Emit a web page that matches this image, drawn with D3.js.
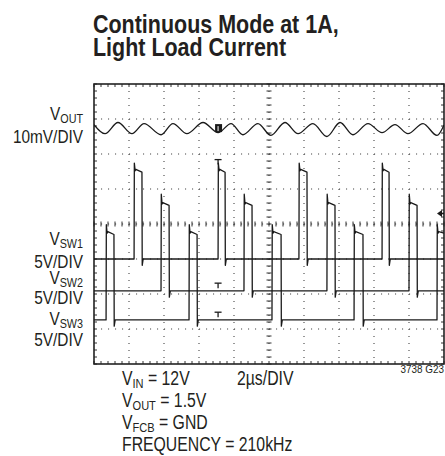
<!DOCTYPE html>
<html><head><meta charset="utf-8">
<script src="https://cdn.jsdelivr.net/npm/d3@7"></script>
<style>html,body{margin:0;padding:0;background:#fff;}svg{display:block;}</style>
</head><body>
<svg id="c" width="445" height="456"></svg>
<script>
// ---- data (time in µs, 2 µs/div, 10 div; voltages in scope units) ----
const timeDomain = [0, 20];
const divDomain = [0, 8];
const triggerTime = 7.09;
const triggerLevelDiv = 4.3;

// VOUT ripple, 10mV/DIV, offset (div from bottom) and samples
const voutOffsetDiv = 6.74;
const voutT  = [0,0.63,1.37,2.17,2.86,3.83,4.51,5.31,6.23,7.09,7.83,8.51,9.37,10.11,10.91,11.66,12.51,13.31,14.06,14.8,15.66,16.46,17.2,17.94,18.8,19.6,20];
const voutMV = [1.0,-1.6,1.6,-1.6,1.3,-1.9,1.3,-1.6,1.6,-1.3,1.3,-1.9,1.3,-2.1,1.6,-1.6,1.3,-2.4,1.6,-1.9,1.3,-1.3,1.0,-1.6,1.3,-2.1,0.9];

// switch nodes, 5V/DIV
const swNames   = ["VSW1", "VSW2", "VSW3"];
const swOffsets = [3.0, 2.09, 1.26];          // ground level, div from bottom
const swHighV   = [12.8, 12.6, 12.6];         // plateau volts
const swSpikeV  = [13.7, 13.8, 13.6];         // overshoot volts
const sw1Rise = [2.29, 7.09, 11.71, 16.46];
const sw1Fall = [2.74, 7.49, 12.17, 16.86];
const sw2Rise = [3.83, 8.57, 13.31, 18.0];
const sw2Fall = [4.29, 9.03, 13.77, 18.46];
const sw3Rise = [0.69, 5.43, 10.17, 14.86, 19.6];
const sw3Fall = [1.14, 5.89, 10.69, 15.37];
const swRises = [sw1Rise, sw2Rise, sw3Rise];
const swFalls = [sw1Fall, sw2Fall, sw3Fall];

// text
const titleLines = ["Continuous Mode at 1A,", "Light Load Current"];
const leftLabels = [
  {main:"V", sub:"OUT", scale:"10mV/DIV"},
  {main:"V", sub:"SW1", scale:"5V/DIV"},
  {main:"V", sub:"SW2", scale:"5V/DIV"},
  {main:"V", sub:"SW3", scale:"5V/DIV"}
];
const condLines = [
  ["V","IN"," = 12V"],
  ["V","OUT"," = 1.5V"],
  ["V","FCB"," = GND"],
  ["FREQUENCY = 210kHz","",""]
];
const timebase = "2\u00B5s/DIV";
const figId = "3738 G23";

// ---- layout ----
const L = 94, R = 444, T = 84, B = 364;
const svg = d3.select("#c");
const x = d3.scaleLinear().domain(timeDomain).range([L, R]);
const y = d3.scaleLinear().domain(divDomain).range([B, T]);
const FONT = "'Liberation Sans', Arial, Helvetica, sans-serif";
const SX = 0.81;

function label(px, py, parts, size, anchor, weight, sx) {
  const g = svg.append("g").attr("transform", `translate(${px},${py}) scale(${sx || SX},1)`);
  const t = g.append("text").attr("x", 0).attr("y", 0)
    .attr("font-family", FONT).attr("font-size", size)
    .attr("font-weight", weight || "normal")
    .attr("text-anchor", anchor || "start").attr("fill", "#231f20");
  parts.forEach(p => {
    if (!p.text) return;
    const ts = t.append("tspan").text(p.text);
    if (p.sub) ts.attr("font-size", size * 0.7).attr("dy", 3);
    else if (p.after) ts.attr("dy", -3);
  });
  return t;
}

// title
titleLines.forEach((s, i) => label(93, 33 + i * 23, [{text:s}], 26.5, "start", "bold"));

// grid
const grid = svg.append("g");
const majorX = d3.range(timeDomain[0], timeDomain[1] + 0.001, 2);
const majorY = d3.range(divDomain[0], divDomain[1] + 0.001, 1);
const minorX = d3.range(timeDomain[0], timeDomain[1] + 0.001, 0.4);
const minorY = d3.range(divDomain[0], divDomain[1] + 0.001, 0.2);
grid.selectAll(".gx").data(majorX.slice(1, -1)).join("line")
  .attr("x1", d => x(d)).attr("x2", d => x(d)).attr("y1", T).attr("y2", B)
  .attr("stroke", "#444").attr("stroke-width", 1.1).attr("stroke-dasharray", "1.1,5.9");
grid.selectAll(".gy").data(majorY.slice(1, -1)).join("line")
  .attr("y1", d => y(d)).attr("y2", d => y(d)).attr("x1", L).attr("x2", R)
  .attr("stroke", "#444").attr("stroke-width", 1.1).attr("stroke-dasharray", "1.1,5.9");
// center cross ticks
const cx = x(10), cy = y(4);
grid.selectAll(".tcx").data(minorX).join("line")
  .attr("x1", d => x(d)).attr("x2", d => x(d)).attr("y1", cy - 2.5).attr("y2", cy + 2.5)
  .attr("stroke", "#333").attr("stroke-width", 1);
grid.selectAll(".tcy").data(minorY).join("line")
  .attr("y1", d => y(d)).attr("y2", d => y(d)).attr("x1", cx - 2.5).attr("x2", cx + 2.5)
  .attr("stroke", "#333").attr("stroke-width", 1);
// frame ticks
grid.selectAll(".ft").data(minorX).join("line")
  .attr("x1", d => x(d)).attr("x2", d => x(d)).attr("y1", T).attr("y2", T + 3)
  .attr("stroke", "#333").attr("stroke-width", 1);
grid.selectAll(".fb").data(minorX).join("line")
  .attr("x1", d => x(d)).attr("x2", d => x(d)).attr("y1", B - 3).attr("y2", B)
  .attr("stroke", "#333").attr("stroke-width", 1);
grid.selectAll(".fl").data(minorY).join("line")
  .attr("y1", d => y(d)).attr("y2", d => y(d)).attr("x1", L).attr("x2", L + 3)
  .attr("stroke", "#333").attr("stroke-width", 1);
grid.selectAll(".fr").data(minorY).join("line")
  .attr("y1", d => y(d)).attr("y2", d => y(d)).attr("x1", R - 3).attr("x2", R)
  .attr("stroke", "#333").attr("stroke-width", 1);
grid.append("rect").attr("x", L).attr("y", T).attr("width", R - L).attr("height", B - T)
  .attr("fill", "none").attr("stroke", "#222").attr("stroke-width", 1.6);

// clip
svg.append("clipPath").attr("id", "clip").append("rect")
  .attr("x", L).attr("y", T - 20).attr("width", R - L).attr("height", B - T + 40);
const traces = svg.append("g").attr("clip-path", "url(#clip)");

// VOUT
const voutLine = d3.line()
  .x((d, i) => x(voutT[i]))
  .y(d => y(voutOffsetDiv + d / 10))
  .curve(d3.curveMonotoneX);
traces.append("path").attr("d", voutLine(voutMV))
  .attr("fill", "none").attr("stroke", "#1a1a1a").attr("stroke-width", 1.3);

// switch nodes
function pulsePoints(rises, falls, high, spike) {
  const pts = [[timeDomain[0], 0]];
  rises.forEach((r, i) => {
    pts.push([r, 0], [r + 0.015, spike], [r + 0.06, high - 0.2], [r + 0.1, high]);
    const f = falls[i];
    if (f === undefined) { pts.push([timeDomain[1], high - 0.2]); return; }
    pts.push([f, high - 0.4], [f + 0.015, -0.9], [f + 0.07, 0]);
  });
  if (pts[pts.length - 1][0] < timeDomain[1]) pts.push([timeDomain[1], 0]);
  return pts;
}
swNames.forEach((name, k) => {
  const pts = pulsePoints(swRises[k], swFalls[k], swHighV[k], swSpikeV[k]);
  const line = d3.line().x(d => x(d[0])).y(d => y(swOffsets[k] + d[1] / 5));
  traces.append("path").attr("d", line(pts))
    .attr("fill", "none").attr("stroke", "#1a1a1a").attr("stroke-width", 1.3)
    .attr("stroke-linejoin", "round");
});

// trigger markers
const tx = x(triggerTime);
svg.append("rect").attr("x", tx - 3).attr("y", y(voutOffsetDiv) - 4).attr("width", 7).attr("height", 8)
  .attr("fill", "#1a1a1a");
svg.append("line").attr("x1", tx).attr("x2", tx).attr("y1", y(voutOffsetDiv) - 2).attr("y2", y(voutOffsetDiv) + 3)
  .attr("stroke", "#fff").attr("stroke-width", 1);
const tMarks = [
  {off: swOffsets[0], v: swSpikeV[0] + 0.5},
  {off: swOffsets[1], v: 1.1},
  {off: swOffsets[2], v: 1.1}
];
tMarks.forEach(m => {
  const yy = y(m.off + m.v / 5);
  svg.append("line").attr("x1", tx - 3.5).attr("x2", tx + 3.5).attr("y1", yy).attr("y2", yy)
    .attr("stroke", "#1a1a1a").attr("stroke-width", 1.3);
  svg.append("line").attr("x1", tx).attr("x2", tx).attr("y1", yy).attr("y2", yy + 5)
    .attr("stroke", "#1a1a1a").attr("stroke-width", 1.3);
});
const ay = y(triggerLevelDiv);
svg.append("path").attr("d", `M${R - 7},${ay} L${R - 2},${ay - 3.5} L${R - 2},${ay + 3.5} Z`).attr("fill", "#1a1a1a");
svg.append("line").attr("x1", R - 4).attr("x2", R).attr("y1", ay).attr("y2", ay)
  .attr("stroke", "#1a1a1a").attr("stroke-width", 1.6);

// left labels
const leftY = [[120, 143], [245, 268], [284, 304], [325, 346]];
leftLabels.forEach((lb, i) => {
  label(83, leftY[i][0], [{text: lb.main}, {text: lb.sub, sub: true}], 19, "end");
  label(83, leftY[i][1], [{text: lb.scale}], 19, "end");
});

// bottom conditions
condLines.forEach((c, i) => {
  label(122, 385 + i * 22, [{text: c[0]}, {text: c[1], sub: true}, {text: c[2], after: true}], 19.5, "start");
});
label(237, 385, [{text: timebase}], 19.5, "start");
label(444, 373, [{text: figId}], 11, "end", "normal", 0.9);
</script>
</body></html>
